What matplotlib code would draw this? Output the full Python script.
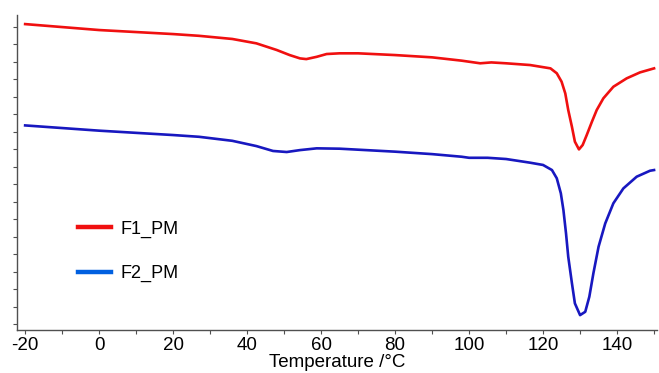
import numpy as np
import matplotlib
matplotlib.use('Agg')
import matplotlib.pyplot as plt
from matplotlib.lines import Line2D
from matplotlib.ticker import MultipleLocator, NullFormatter

# DSC traces (heat flow in arbitrary units, one unit per y tick)
temp_f1 = [-20, 0, 20, 27, 36, 42.5, 48, 51.5, 54.3, 56, 58.8, 61.5, 65, 70, 80, 90, 98, 100,
           103, 106, 110, 116.5, 122, 123.7, 125, 126, 126.8, 127.8, 128.6, 129.7, 130.7, 131.8,
           133.2, 134.5, 136.3, 139, 142.6, 146.2, 150]
hf_f1 = [17.14, 16.80, 16.57, 16.47, 16.29, 16.04, 15.66, 15.37, 15.18, 15.14, 15.27, 15.43,
         15.47, 15.47, 15.37, 15.24, 15.05, 14.99, 14.90, 14.95, 14.90, 14.80, 14.61, 14.33,
         13.85, 13.18, 12.23, 11.27, 10.42, 9.98, 10.23, 10.80, 11.56, 12.23, 12.90, 13.56,
         14.04, 14.38, 14.61]

temp_f2 = [-20, 0, 20, 27, 36, 42.5, 47, 50.7, 54.3, 58.8, 65, 80, 90, 98, 100, 105, 110, 116.5,
           120, 122.4, 123.7, 124.8, 125.5, 126.2, 126.8, 127.8, 128.6, 130, 131.4, 132.5, 133.6,
           135, 136.8, 139, 141.7, 145.3, 148.9, 150]
hf_f2 = [11.35, 11.05, 10.80, 10.70, 10.47, 10.17, 9.89, 9.83, 9.94, 10.04, 10.02, 9.85, 9.71,
         9.56, 9.50, 9.50, 9.43, 9.22, 9.09, 8.80, 8.33, 7.47, 6.51, 5.18, 3.85, 2.33, 1.18,
         0.51, 0.70, 1.56, 2.90, 4.42, 5.75, 6.90, 7.75, 8.42, 8.76, 8.80]

labels = ['F1_PM', 'F2_PM']

plt.rcParams['font.family'] = ['Liberation Sans', 'DejaVu Sans']
plt.rcParams['axes.unicode_minus'] = False

fig = plt.figure(figsize=(6.59, 3.73), dpi=100)
ax = fig.add_axes([0.0258, 0.1153, 0.9712, 0.8445])

ax.plot(temp_f1, hf_f1, color='#f01010', lw=1.9, solid_joinstyle='round')
ax.plot(temp_f2, hf_f2, color='#1818c0', lw=1.9, solid_joinstyle='round')

ax.set_xlim(-22.2, 150.8)
ax.set_ylim(-0.34, 17.66)

for side in ['top', 'right']:
    ax.spines[side].set_visible(False)
for side in ['left', 'bottom']:
    ax.spines[side].set_color('#505050')
    ax.spines[side].set_linewidth(1.0)

ax.xaxis.set_major_locator(MultipleLocator(20))
ax.xaxis.set_minor_locator(MultipleLocator(10))
ax.yaxis.set_major_locator(MultipleLocator(1))
ax.yaxis.set_major_formatter(NullFormatter())
ax.tick_params(axis='x', which='both', direction='out', length=3, width=0.8, color='#505050',
               labelsize=13.5, pad=2)
ax.tick_params(axis='y', which='major', direction='out', length=3, width=0.8, color='#505050')
ax.set_xlabel('Temperature /°C', fontsize=13.5, labelpad=0)

handles = [Line2D([], [], color='#f01010', lw=3.2),
           Line2D([], [], color='#0060e0', lw=3.2)]
ax.legend(handles, labels, loc='lower left', bbox_to_anchor=(0.07, 0.1), frameon=False,
          fontsize=13, handlelength=1.8, handletextpad=0.55, labelspacing=1.5)

plt.savefig('out.png', dpi=100)
